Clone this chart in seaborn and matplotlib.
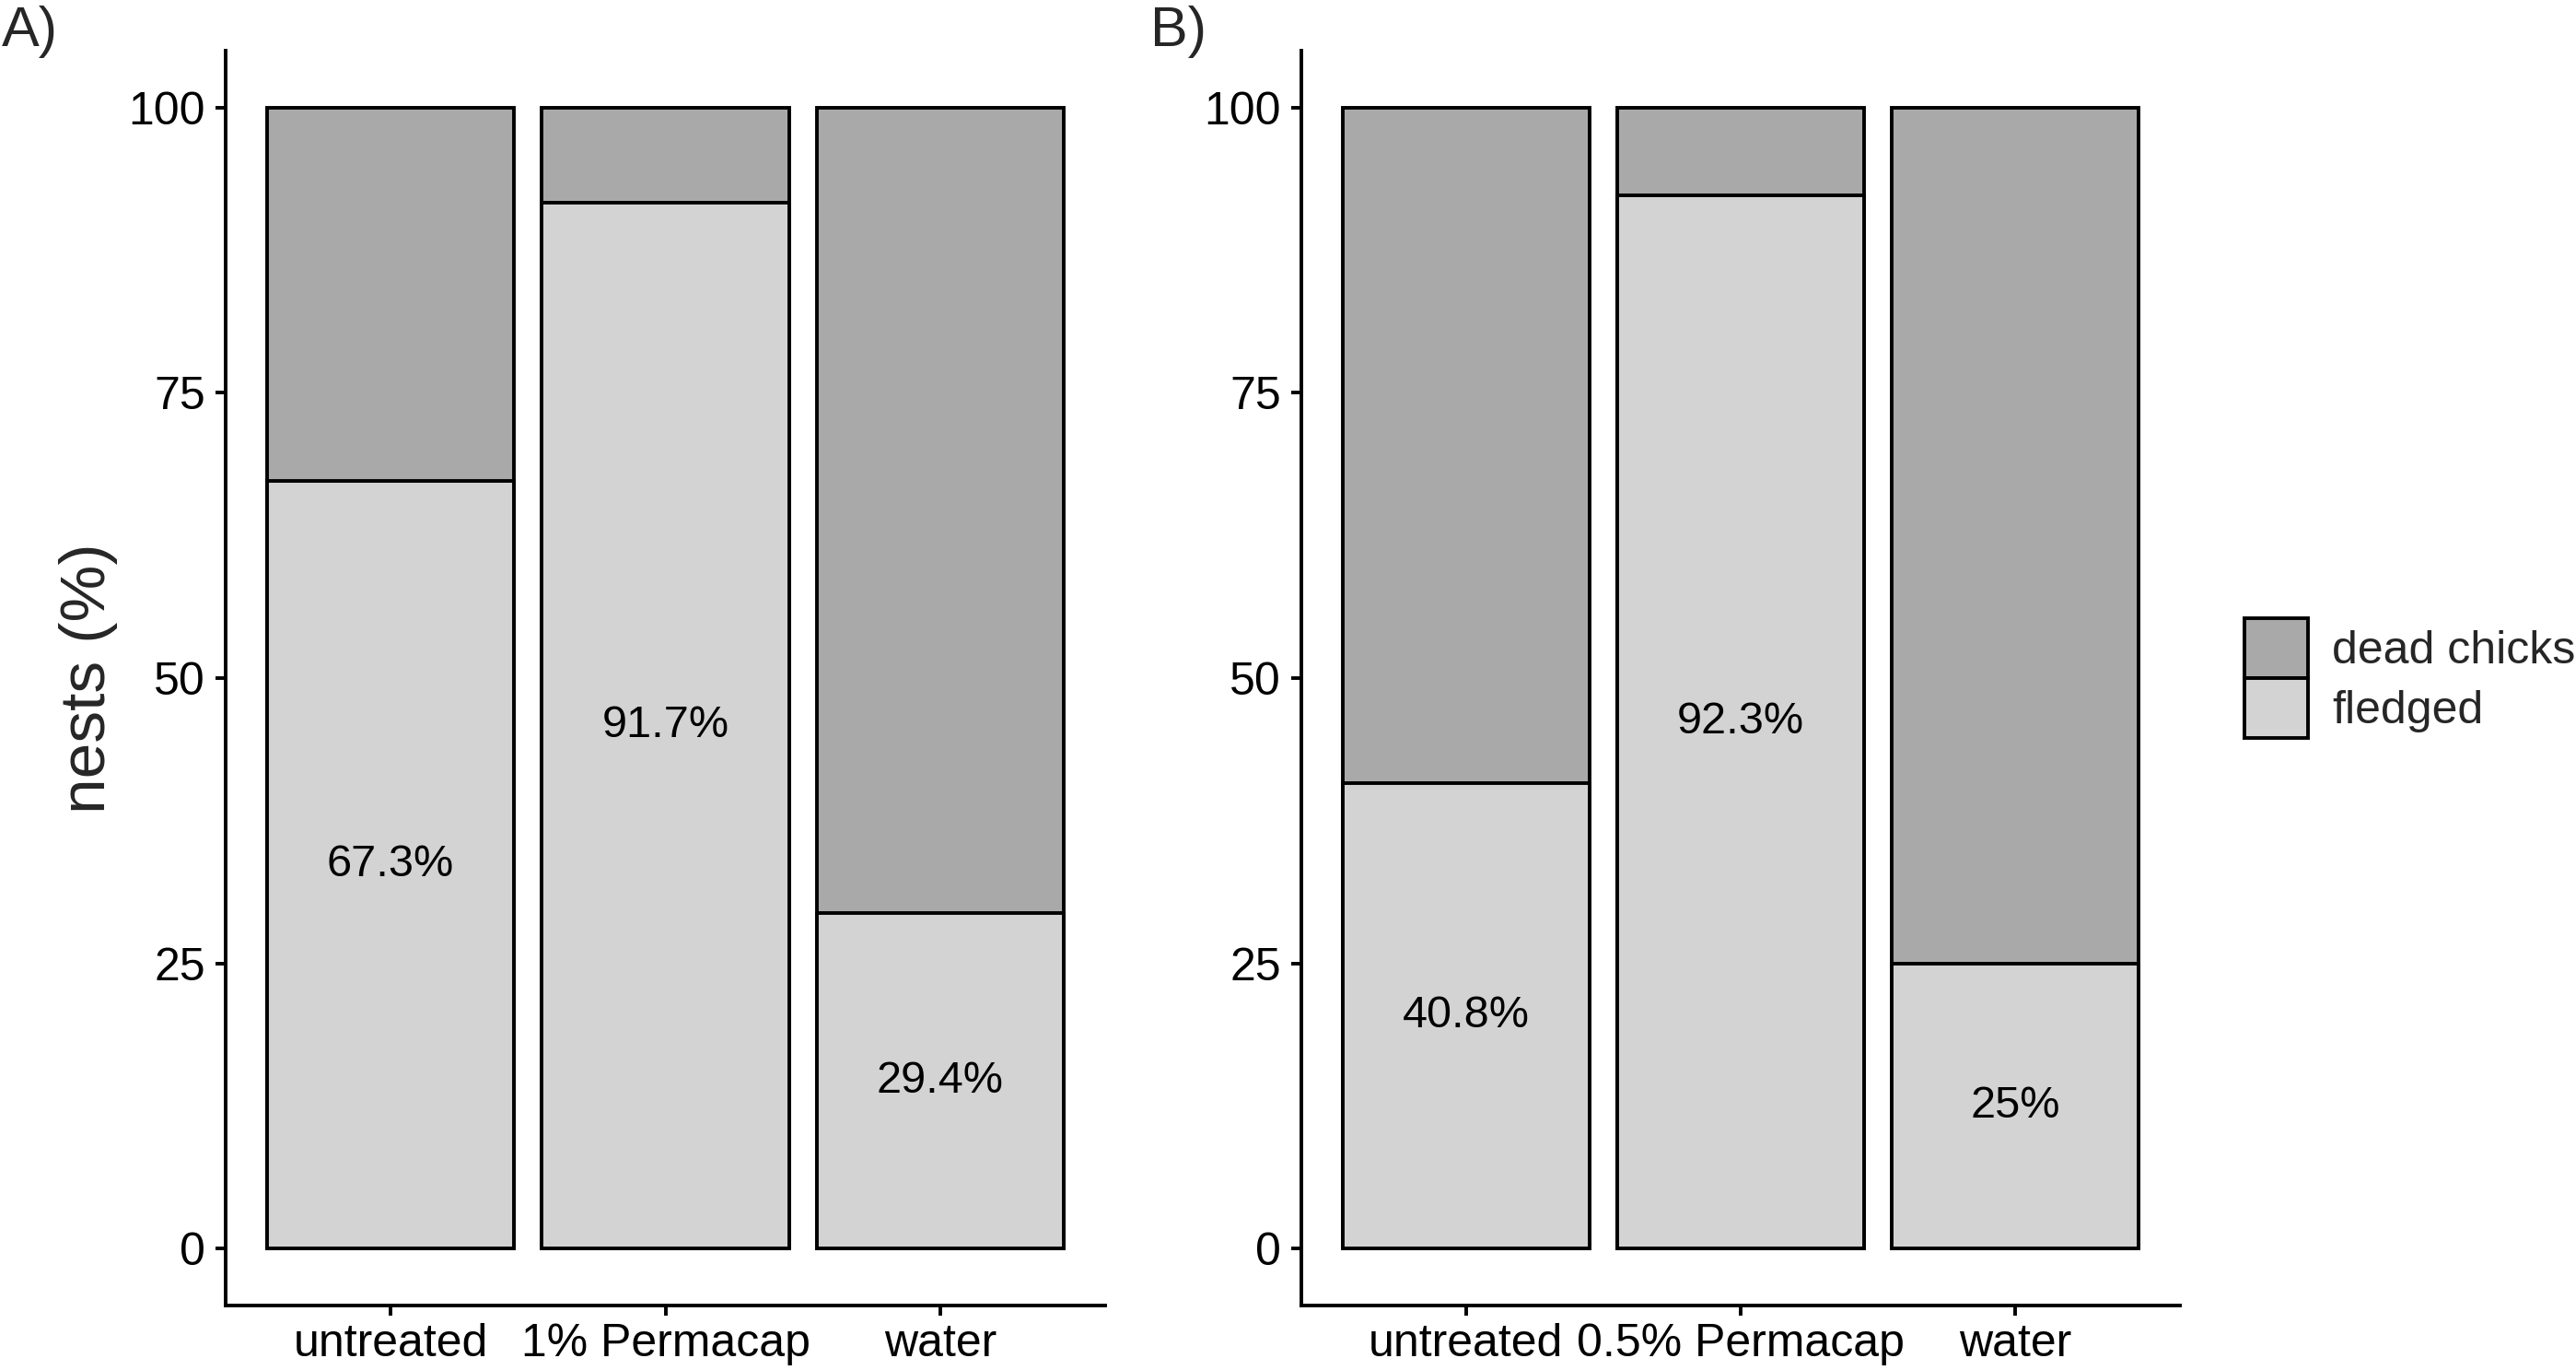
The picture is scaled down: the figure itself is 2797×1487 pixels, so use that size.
import matplotlib
matplotlib.use("Agg")
import matplotlib.pyplot as plt
from matplotlib.patches import Patch
import seaborn as sns
import pandas as pd

# ---- data ----
cats_a = ["untreated", "1% Permacap", "water"]
fledged_a = [67.3, 91.7, 29.4]
labels_a = ["67.3%", "91.7%", "29.4%"]

cats_b = ["untreated", "0.5% Permacap", "water"]
fledged_b = [40.8, 92.3, 25.0]
labels_b = ["40.8%", "92.3%", "25%"]

total = [100, 100, 100]
yticks = [0, 25, 50, 75, 100]
legend_labels = ["dead chicks", "fledged"]

DEAD = "#A9A9A9"
FLED = "#D3D3D3"

sns.set_style("ticks")
plt.rcParams["font.family"] = ["Liberation Sans", "DejaVu Sans"]

W, H, DPI = 2797, 1487, 200
fig = plt.figure(figsize=(W / DPI, H / DPI), dpi=DPI)

def px_axes(left, right, top, bottom):
    return fig.add_axes([left / W, 1 - bottom / H, (right - left) / W, (bottom - top) / H])

ax_a = px_axes(245, 1200, 55, 1417)
ax_b = px_axes(1413, 2367, 55, 1417)

LW = 1.4

def draw(ax, cats, fledged, labels):
    df = pd.DataFrame({"cat": cats, "total": total, "fledged": fledged})
    sns.barplot(data=df, x="cat", y="total", order=cats, color=DEAD,
                edgecolor="black", linewidth=LW, width=0.9, saturation=1, ax=ax)
    sns.barplot(data=df, x="cat", y="fledged", order=cats, color=FLED,
                edgecolor="black", linewidth=LW, width=0.9, saturation=1, ax=ax)
    for i, (v, lab) in enumerate(zip(fledged, labels)):
        ax.text(i, v / 2, lab, ha="center", va="center", fontsize=17.5, color="black")
    ax.set_xlim(-0.6, len(cats) - 0.4)
    ax.set_ylim(-5, 105)
    ax.set_yticks(yticks)
    ax.set_yticklabels([str(t) for t in yticks])
    ax.set_xlabel("")
    ax.set_ylabel("")
    for s in ["top", "right"]:
        ax.spines[s].set_visible(False)
    for s in ["left", "bottom"]:
        ax.spines[s].set_linewidth(LW)
        ax.spines[s].set_color("black")
    ax.tick_params(axis="both", length=4, width=LW, color="black",
                   labelsize=18, labelcolor="black", direction="out")
    ax.tick_params(axis="x", pad=3)
    ax.tick_params(axis="y", pad=4)
    ax.set_facecolor("white")

draw(ax_a, cats_a, fledged_a, labels_a)
draw(ax_b, cats_b, fledged_b, labels_b)

ax_a.set_ylabel("nests (%)", fontsize=25)
ax_a.yaxis.set_label_coords((128 - 245) / 955, 0.5)

fig.text(2 / W, 1 - 50 / H, "A)", fontsize=22, ha="left", va="baseline")
fig.text(1249 / W, 1 - 50 / H, "B)", fontsize=22, ha="left", va="baseline")

handles = [Patch(facecolor=DEAD, edgecolor="black", linewidth=LW),
           Patch(facecolor=FLED, edgecolor="black", linewidth=LW)]
fig.legend(handles, legend_labels, loc="center left",
           bbox_to_anchor=(2437 / W, 1 - 736 / H), frameon=False,
           fontsize=18, handlelength=1.38, handleheight=1.62,
           labelspacing=0.0, handletextpad=0.52, borderpad=0, borderaxespad=0)

fig.savefig("out.png", dpi=DPI, facecolor="white")
